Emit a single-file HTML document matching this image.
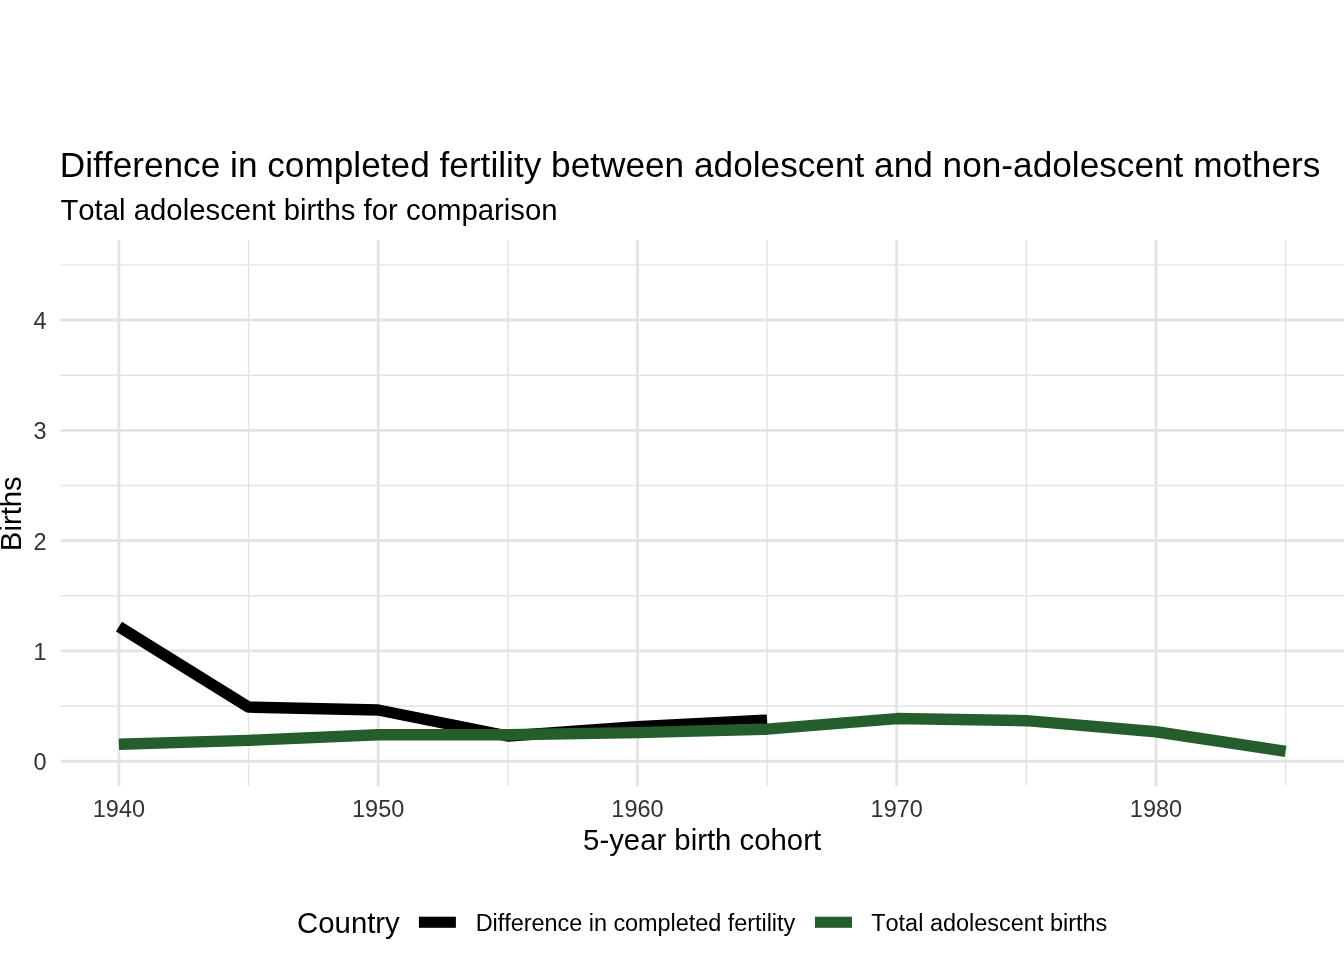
<!DOCTYPE html>
<html><head><meta charset="utf-8"><style>
html,body{margin:0;padding:0;background:#fff;}
body{width:1344px;height:960px;overflow:hidden;}
svg{display:block;will-change:transform;}
text{font-family:"Liberation Sans",sans-serif;font-kerning:none;}
</style></head><body>
<svg width="1344" height="960" viewBox="0 0 1344 960">
<rect x="0" y="0" width="1344" height="960" fill="#FFFFFF"/>
<line x1="60.6" x2="1344.0" y1="706.06" y2="706.06" stroke="#E3E3E3" stroke-width="1.42"/>
<line x1="60.6" x2="1344.0" y1="595.77" y2="595.77" stroke="#E3E3E3" stroke-width="1.42"/>
<line x1="60.6" x2="1344.0" y1="485.48" y2="485.48" stroke="#E3E3E3" stroke-width="1.42"/>
<line x1="60.6" x2="1344.0" y1="375.19" y2="375.19" stroke="#E3E3E3" stroke-width="1.42"/>
<line x1="60.6" x2="1344.0" y1="264.90" y2="264.90" stroke="#E3E3E3" stroke-width="1.42"/>
<line y1="240.3" y2="786.0" x1="248.55" x2="248.55" stroke="#E3E3E3" stroke-width="1.42"/>
<line y1="240.3" y2="786.0" x1="507.81" x2="507.81" stroke="#E3E3E3" stroke-width="1.42"/>
<line y1="240.3" y2="786.0" x1="767.07" x2="767.07" stroke="#E3E3E3" stroke-width="1.42"/>
<line y1="240.3" y2="786.0" x1="1026.33" x2="1026.33" stroke="#E3E3E3" stroke-width="1.42"/>
<line y1="240.3" y2="786.0" x1="1285.59" x2="1285.59" stroke="#E3E3E3" stroke-width="1.42"/>
<line x1="60.6" x2="1344.0" y1="761.20" y2="761.20" stroke="#E3E3E3" stroke-width="2.85"/>
<line x1="60.6" x2="1344.0" y1="650.91" y2="650.91" stroke="#E3E3E3" stroke-width="2.85"/>
<line x1="60.6" x2="1344.0" y1="540.62" y2="540.62" stroke="#E3E3E3" stroke-width="2.85"/>
<line x1="60.6" x2="1344.0" y1="430.33" y2="430.33" stroke="#E3E3E3" stroke-width="2.85"/>
<line x1="60.6" x2="1344.0" y1="320.04" y2="320.04" stroke="#E3E3E3" stroke-width="2.85"/>
<line y1="240.3" y2="786.0" x1="118.92" x2="118.92" stroke="#E3E3E3" stroke-width="2.85"/>
<line y1="240.3" y2="786.0" x1="378.18" x2="378.18" stroke="#E3E3E3" stroke-width="2.85"/>
<line y1="240.3" y2="786.0" x1="637.44" x2="637.44" stroke="#E3E3E3" stroke-width="2.85"/>
<line y1="240.3" y2="786.0" x1="896.70" x2="896.70" stroke="#E3E3E3" stroke-width="2.85"/>
<line y1="240.3" y2="786.0" x1="1155.96" x2="1155.96" stroke="#E3E3E3" stroke-width="2.85"/>
<polyline points="118.92,626.69 248.55,707.11 378.18,710.00 507.81,735.98 637.44,726.65 767.07,720.10" fill="none" stroke="#000000" stroke-width="11.38" stroke-linejoin="round" stroke-linecap="butt"/>
<polyline points="118.92,744.20 248.55,740.35 378.18,734.70 507.81,734.80 637.44,732.60 767.07,729.20 896.70,718.56 1026.33,720.70 1155.96,731.75 1285.59,751.35" fill="none" stroke="#245E2C" stroke-width="11.38" stroke-linejoin="round" stroke-linecap="butt"/>
<text x="46.6" y="770" text-anchor="end" font-size="23.47" fill="#333333" font-family="Liberation Sans, sans-serif">0</text>
<text x="46.6" y="660" text-anchor="end" font-size="23.47" fill="#333333" font-family="Liberation Sans, sans-serif">1</text>
<text x="46.6" y="550" text-anchor="end" font-size="23.47" fill="#333333" font-family="Liberation Sans, sans-serif">2</text>
<text x="46.6" y="439" text-anchor="end" font-size="23.47" fill="#333333" font-family="Liberation Sans, sans-serif">3</text>
<text x="46.6" y="329" text-anchor="end" font-size="23.47" fill="#333333" font-family="Liberation Sans, sans-serif">4</text>
<text x="118.92" y="816.7" text-anchor="middle" font-size="23.47" fill="#333333" font-family="Liberation Sans, sans-serif">1940</text>
<text x="378.18" y="816.7" text-anchor="middle" font-size="23.47" fill="#333333" font-family="Liberation Sans, sans-serif">1950</text>
<text x="637.44" y="816.7" text-anchor="middle" font-size="23.47" fill="#333333" font-family="Liberation Sans, sans-serif">1960</text>
<text x="896.70" y="816.7" text-anchor="middle" font-size="23.47" fill="#333333" font-family="Liberation Sans, sans-serif">1970</text>
<text x="1155.96" y="816.7" text-anchor="middle" font-size="23.47" fill="#333333" font-family="Liberation Sans, sans-serif">1980</text>
<text x="702.1" y="850" text-anchor="middle" font-size="29.33" fill="#000" font-family="Liberation Sans, sans-serif">5-year birth cohort</text>
<text transform="translate(20.9,513.7) rotate(-90)" x="0" y="0" text-anchor="middle" font-size="29.33" fill="#000" font-family="Liberation Sans, sans-serif">Births</text>
<text x="59.8" y="176.6" textLength="1260.55" lengthAdjust="spacing" font-size="35.2" fill="#000" font-family="Liberation Sans, sans-serif">Difference in completed fertility between adolescent and non-adolescent mothers</text>
<text x="60.4" y="219.8" font-size="29.33" fill="#000" font-family="Liberation Sans, sans-serif">Total adolescent births for comparison</text>
<text x="297.1" y="932.5" font-size="29.33" fill="#000" font-family="Liberation Sans, sans-serif">Country</text>
<rect x="418.9" y="916.7" width="37" height="11.1" fill="#000"/>
<rect x="815" y="916.7" width="37" height="11.1" fill="#245E2C"/>
<text x="475.7" y="931" textLength="319.55" lengthAdjust="spacing" font-size="23.47" fill="#000" font-family="Liberation Sans, sans-serif">Difference in completed fertility</text>
<text x="871.2" y="931" font-size="23.47" fill="#000" font-family="Liberation Sans, sans-serif">Total adolescent births</text>
</svg>
</body></html>
